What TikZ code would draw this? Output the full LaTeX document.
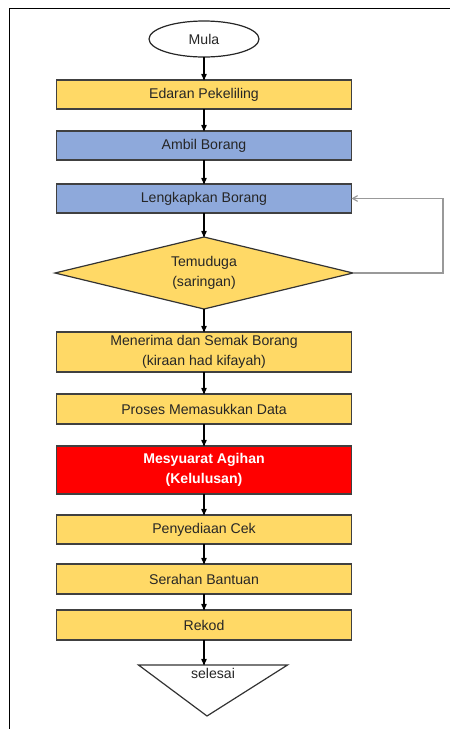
\documentclass[tikz,border=0pt]{standalone}
\usepackage{fontspec}
\setmainfont{Liberation Sans}
\usetikzlibrary{shapes,arrows,positioning}
\definecolor{kuning}{HTML}{FFD966}
\definecolor{biru}{HTML}{8EA9DB}
\definecolor{merah}{HTML}{FF0000}

\begin{document}
\begin{tikzpicture}[->,>=stealth',auto,node distance=22pt,x=1pt,y=1pt,line width=1.2pt]
\tikzstyle{every node}=[font=\fontsize{14.1}{19.5}\selectfont,text=black!85,align=center,outer sep=0pt]
\tikzstyle{box}=[rectangle,draw=black!75,fill=kuning,minimum width=295pt,minimum height=29pt,inner sep=0pt]
\tikzstyle{mula}=[ellipse,draw=black!85,fill=white,minimum width=110pt,minimum height=36pt,inner sep=0pt]
\tikzstyle{keputusan}=[diamond,aspect=4,draw=black!80,fill=kuning,minimum width=298pt,minimum height=72pt,inner sep=0pt]
\tikzstyle{akhir}=[minimum width=149pt,minimum height=51pt,inner sep=0pt]
\useasboundingbox (0,0) rectangle (450,-729);
\draw[-,line width=1.5pt] (9.5,-729) |- (450,-8.5);
\node[mula] (mula) at (204,-39) {Mula};
\node[box] [below=23pt of mula] (edaran) {Edaran Pekeliling};
\node[box,fill=biru] [below=of edaran] (ambil) {Ambil Borang};
\node[box,fill=biru] [below=24pt of ambil] (lengkap) {Lengkapkan Borang};
\node[keputusan] [below=24pt of lengkap] (temuduga) {Temuduga\\(saringan)};
\node[box,minimum height=40pt] [below=23pt of temuduga] (terima) {Menerima dan Semak Borang\\(kiraan had kifayah)};
\node[box,minimum height=30pt] [below=of terima] (proses) {Proses Memasukkan Data};
\node[box,fill=merah,minimum height=48pt,text=white,font=\fontsize{14.1}{19.5}\selectfont\bfseries] [below=of proses] (mesyuarat) {Mesyuarat Agihan\\(Kelulusan)};
\node[box] [below=21pt of mesyuarat] (cek) {Penyediaan Cek};
\node[box,minimum height=30pt] [below=20pt of cek] (serahan) {Serahan Bantuan};
\node[box,minimum height=30pt] [below=16pt of serahan] (rekod) {Rekod};
\node[akhir] [below=25pt of rekod,xshift=9pt] (selesai) {};
\draw[-,draw=black!80,fill=white] (selesai.north west) -- (selesai.north east) -- ([xshift=-6pt]selesai.south) -- cycle;
\node[below=3.5pt of selesai.north,inner sep=0pt] (teksselesai) {selesai};
\coordinate[right=90pt of temuduga.east] (balik);
\path (mula)edge(edaran)
      (edaran)edge(ambil)
      (ambil)edge(lengkap)
      (lengkap)edge(temuduga)
      (temuduga)edge(terima)
      (terima)edge(proses)
      (proses)edge(mesyuarat)
      (mesyuarat)edge(cek)
      (cek)edge(serahan)
      (serahan)edge(rekod)
      (rekod)edge(rekod |- selesai.north);
\draw[gray!80,>=angle 60] (temuduga.east) -- (balik) |- (lengkap.east);
\end{tikzpicture}
\end{document}
